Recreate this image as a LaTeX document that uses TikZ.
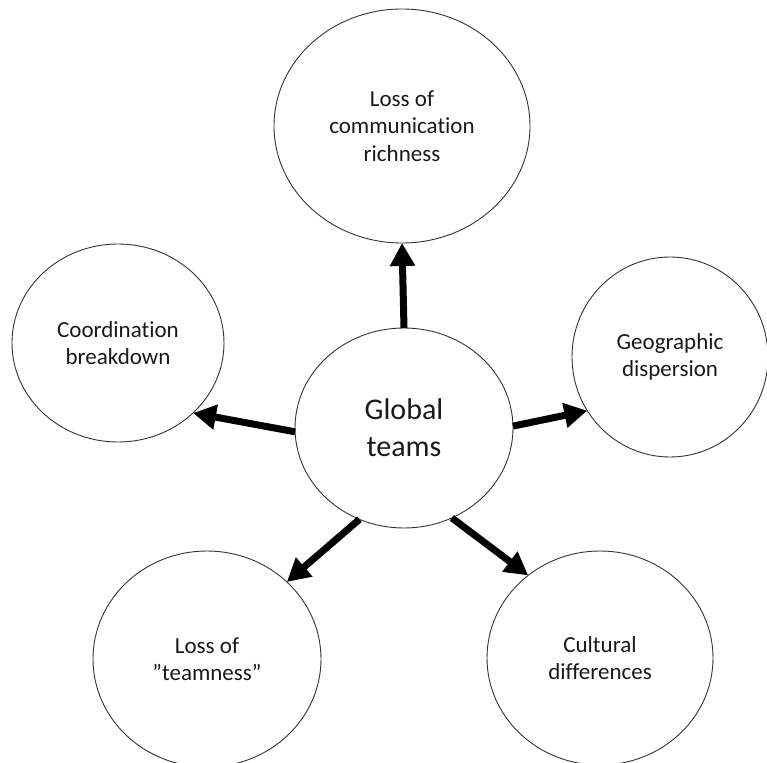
\documentclass[tikz,border=0pt]{standalone}
\usepackage{fontspec}
\setmainfont{Carlito}[Ligatures=NoCommon]
\usetikzlibrary{shapes.geometric,arrows.meta}
\begin{document}
\begin{tikzpicture}[x=1pt,y=-1pt,
  bubble/.style={ellipse,draw=black!80,line width=0.9pt,inner sep=0pt,outer sep=0pt,
    align=center,text=black!90,font=\fontsize{23}{27.5}\selectfont},
  bigarrow/.style={line width=7pt,black,-{Triangle[width=24pt,length=23pt]}}]
\useasboundingbox (0,0) rectangle (767,762);
\node[bubble,minimum width=218pt,minimum height=200pt,font=\fontsize{30}{37}\selectfont] (g) at (404,428) {Global\\teams};
\node[bubble,minimum width=256pt,minimum height=234pt] (t) at (402,126) {Loss of\\communication\\richness};
\node[bubble,minimum width=212pt,minimum height=198pt] (l) at (118,343) {Coordination\\breakdown};
\node[bubble,minimum width=196pt,minimum height=200pt] (r) at (670,357) {Geographic\\dispersion};
\node[bubble,minimum width=228pt,minimum height=216pt] (bl) at (207,659) {Loss of\\”teamness”};
\node[bubble,minimum width=226pt,minimum height=214pt] (br) at (600,658) {Cultural\\differences};
\draw[bigarrow] (g.90) -- (t.270);
\draw[bigarrow] (g.182) -- (l.317);
\draw[bigarrow] (g.1) -- (r.213);
\draw[bigarrow] (g.244) -- (bl.44.6);
\draw[bigarrow] (g.298) -- (br.131.7);
\end{tikzpicture}
\end{document}
